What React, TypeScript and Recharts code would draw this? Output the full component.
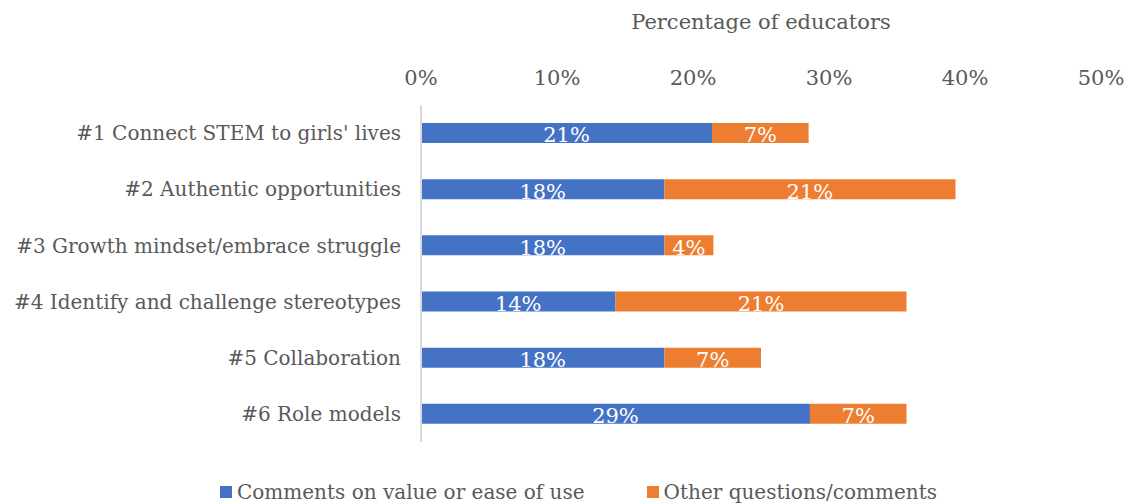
import { BarChart, Bar, XAxis, YAxis, Legend, LabelList } from "recharts";

const categories = [
  "#1 Connect STEM to girls' lives",
  "#2 Authentic opportunities",
  "#3 Growth mindset/embrace struggle",
  "#4 Identify and challenge stereotypes",
  "#5 Collaboration",
  "#6 Role models",
];
const valueComments = [21.4, 17.9, 17.9, 14.3, 17.9, 28.6];
const otherComments = [7.1, 21.4, 3.6, 21.4, 7.1, 7.1];
const xTicks = [0, 10, 20, 30, 40, 50];

const seriesNames = ["Comments on value or ease of use", "Other questions/comments"];
const colors = ["#4472C4", "#ED7D31"];

const data = categories.map((name, i) => ({
  name,
  value: valueComments[i],
  other: otherComments[i],
}));

const FONT = "'DejaVu Serif', serif";
const TEXT = "#595959";

function LegendContent() {
  return (
    <div
      style={{
        display: "flex",
        justifyContent: "center",
        gap: 62,
        fontFamily: FONT,
        fontSize: 20,
        color: TEXT,
        lineHeight: "24px",
        paddingLeft: 28,
      }}
    >
      {seriesNames.map((n, i) => (
        <div key={n} style={{ display: "flex", alignItems: "center", gap: 5 }}>
          <span style={{ width: 12, height: 12, background: colors[i], display: "inline-block" }} />
          <span>{n}</span>
        </div>
      ))}
    </div>
  );
}

export default function App() {
  return (
    <div style={{ position: "absolute", left: 0, top: 0, background: "#fff" }}>
      <BarChart
        width={1129}
        height={504}
        data={data}
        layout="vertical"
        margin={{ top: 10, right: 28, bottom: 38, left: 0 }}
      >
        <XAxis
          type="number"
          orientation="top"
          domain={[0, 50]}
          ticks={xTicks}
          tickFormatter={(v: number) => `${v}%`}
          axisLine={false}
          tickLine={false}
          tickMargin={14}
          height={95}
          tick={{ fill: TEXT, fontSize: 21, fontFamily: FONT }}
          label={{
            value: "Percentage of educators",
            position: "insideTop",
            offset: 4,
            fill: TEXT,
            fontSize: 21,
            fontFamily: FONT,
          }}
        />
        <YAxis
          type="category"
          dataKey="name"
          width={421}
          axisLine={{ stroke: "#D9D9D9", strokeWidth: 2 }}
          tickLine={false}
          tickMargin={14}
          tick={{ fill: TEXT, fontSize: 20, fontFamily: FONT }}
        />
        <Legend
          verticalAlign="bottom"
          wrapperStyle={{ bottom: 0, left: 0, width: 1129 }}
          content={() => <LegendContent />}
        />
        <Bar dataKey="value" stackId="a" fill={colors[0]} barSize={20} isAnimationActive={false}>
          <LabelList
            dataKey="value"
            position="center"
            formatter={(v: number) => `${Math.round(v)}%`}
            fill="#fff"
            fontSize={21}
            fontFamily={FONT}
            dy={2}
          />
        </Bar>
        <Bar dataKey="other" stackId="a" fill={colors[1]} barSize={20} isAnimationActive={false}>
          <LabelList
            dataKey="other"
            position="center"
            formatter={(v: number) => `${Math.round(v)}%`}
            fill="#fff"
            fontSize={21}
            fontFamily={FONT}
            dy={2}
          />
        </Bar>
      </BarChart>
    </div>
  );
}
